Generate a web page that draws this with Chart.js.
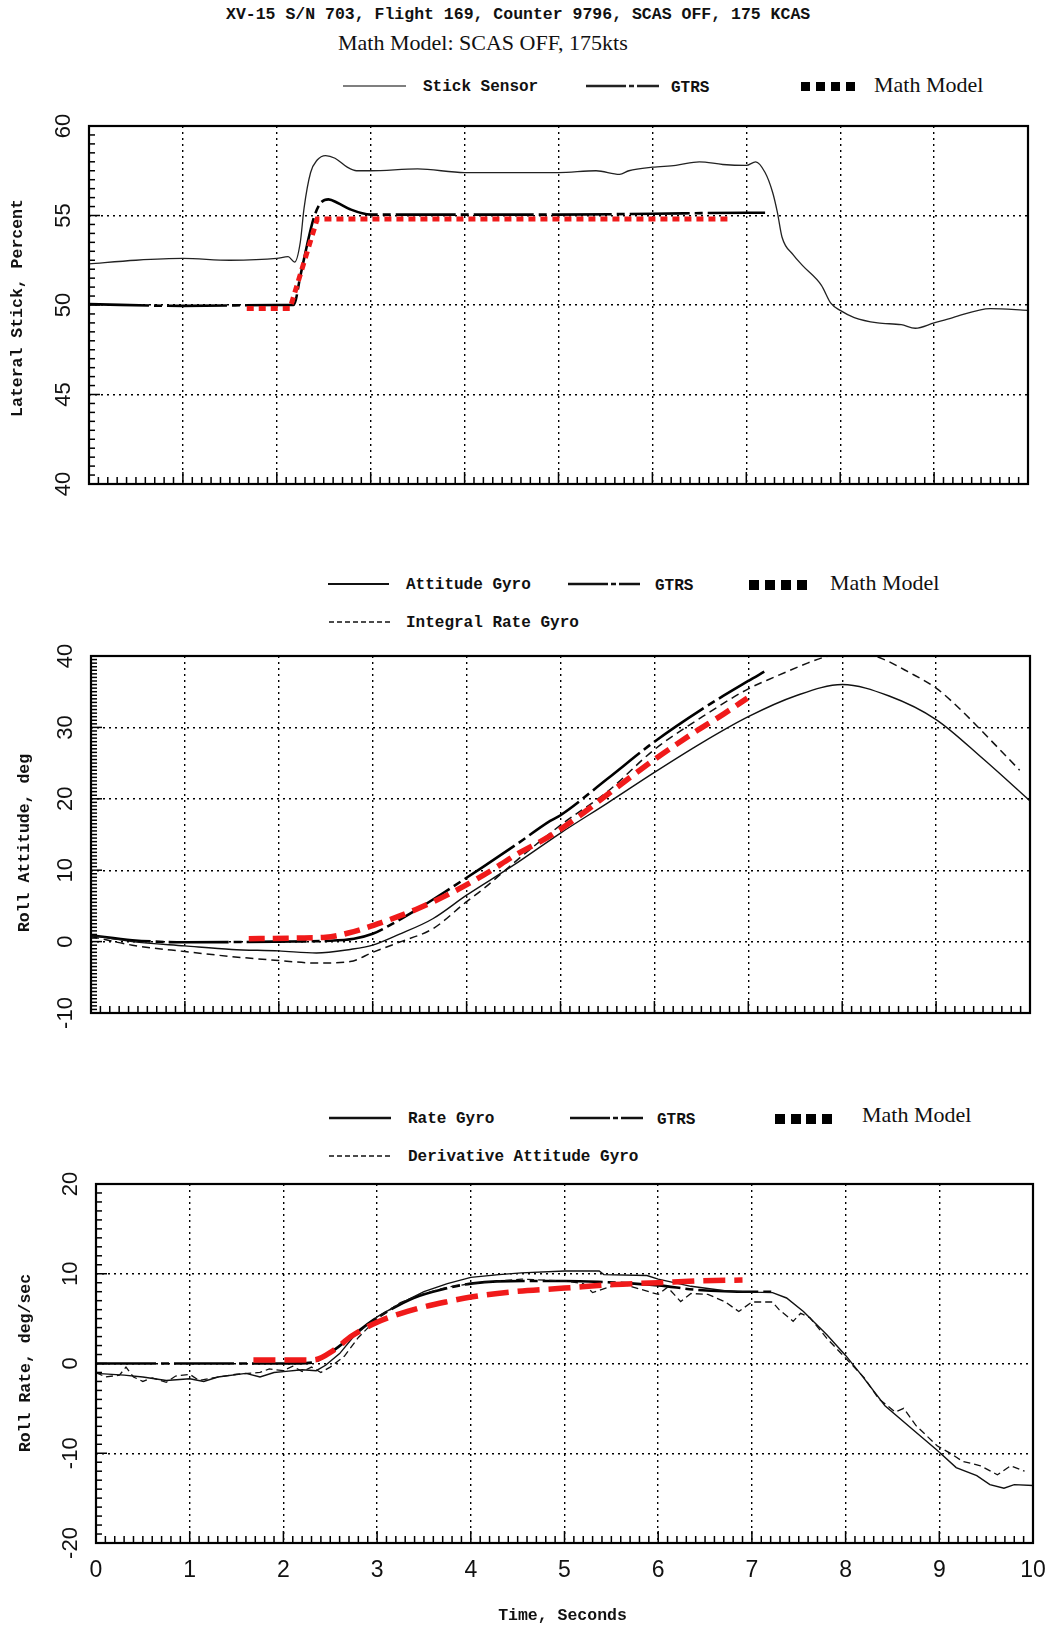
<!DOCTYPE html>
<html>
<head>
<meta charset="utf-8">
<script src="https://cdn.jsdelivr.net/npm/chart.js@4.4.1/dist/chart.umd.min.js"></script>
<style>
  body { margin: 0; background: #fff; }
  #page { position: relative; width: 1054px; height: 1631px; background: #fff; overflow: hidden; }
  #page canvas { position: absolute; left: 0; }
  .t { position: absolute; white-space: nowrap; color: #111; line-height: 1; transform: translateY(-50%); }
  .mono { font-family: "Liberation Mono", "DejaVu Sans Mono", monospace; font-size: 16px; font-weight: bold; }
  .serif { font-family: "Liberation Serif", serif; font-size: 22px; }
  svg.s { position: absolute; overflow: visible; }
</style>
</head>
<body>
<div id="page">
  <canvas id="c1" width="1054" height="420" style="top:100px"></canvas>
  <canvas id="c2" width="1054" height="390" style="top:640px"></canvas>
  <canvas id="c3" width="1054" height="461" style="top:1170px"></canvas>
</div>
<script>
// ---- values (time in s) ----

// top panel: lateral stick, percent
const stickT = [0, 0.5, 1.0, 1.5, 2.0, 2.12, 2.19, 2.25, 2.29, 2.36, 2.43, 2.52, 2.62, 2.75, 2.85, 3.0, 3.5, 4.0, 4.5, 5.0, 5.4, 5.65, 5.75, 6.0, 6.25, 6.5, 6.75, 7.0, 7.1, 7.2, 7.28, 7.33, 7.38, 7.5, 7.6, 7.8, 7.9, 8.0, 8.15, 8.4, 8.65, 8.8, 9.0, 9.2, 9.6, 10.0];
const stickV = [52.3, 52.5, 52.6, 52.5, 52.6, 52.7, 52.4, 53.5, 55.4, 57.4, 58.1, 58.35, 58.2, 57.7, 57.5, 57.5, 57.6, 57.4, 57.4, 57.4, 57.5, 57.3, 57.5, 57.7, 57.8, 58.0, 57.85, 57.8, 58.0, 57.4, 56.3, 55.2, 53.8, 52.8, 52.2, 51.1, 50.1, 49.7, 49.3, 49.0, 48.9, 48.7, 49.0, 49.3, 49.8, 49.7];
const gtrsT1 = [0, 1.0, 2.0, 2.18, 2.25, 2.32, 2.39, 2.46, 2.55, 2.65, 2.78, 3.0, 4.0, 5.0, 6.0, 7.0, 7.2];
const gtrsV1 = [50.05, 49.95, 50.0, 50.0, 51.6, 53.3, 54.8, 55.65, 55.9, 55.7, 55.35, 55.05, 55.05, 55.05, 55.1, 55.15, 55.15];
const mmT1 = [1.68, 2.14, 2.43, 6.84];
const mmV1 = [49.8, 49.8, 54.8, 54.8];

// middle panel: roll attitude, deg
const attT = [0, 0.44, 1, 1.5, 2, 2.4, 2.76, 3, 3.28, 3.64, 4, 4.5, 5, 5.5, 6, 6.5, 7, 7.5, 8, 8.5, 9, 9.5, 10];
const attV = [0.9, 0, -0.6, -1.1, -1.3, -1.6, -1.1, -0.5, 1.0, 3.2, 6.5, 10.7, 15.2, 19.4, 23.7, 27.8, 31.5, 34.4, 36.0, 34.4, 31.1, 25.6, 19.7];
const gtrsT2 = [0, 0.44, 1, 2, 2.5, 2.8, 3.0, 3.17, 3.46, 3.82, 4.18, 4.53, 4.89, 5.0, 5.5, 6.0, 6.5, 7.0, 7.17];
const gtrsV2 = [0.9, 0.2, -0.1, 0, 0.1, 0.4, 1.1, 2.2, 4.4, 7.4, 10.5, 13.6, 16.9, 17.7, 22.8, 28.0, 32.5, 36.5, 37.8];
const intT = [0, 0.44, 1, 1.5, 2, 2.4, 2.76, 3.0, 3.28, 3.64, 4.0, 4.18, 4.5, 5.0, 5.5, 6.0, 6.5, 7.0, 7.27, 7.63, 7.8, 8.0, 8.2, 8.43, 8.7, 9.0, 9.26, 9.56, 9.89];
const intV = [0.7, -0.5, -1.4, -2.1, -2.65, -3.0, -2.8, -1.5, -0.1, 1.8, 5.6, 7.4, 11.0, 16.3, 21.0, 26.9, 31.4, 35.4, 37.0, 39.0, 39.8, 40.4, 40.5, 39.6, 37.8, 35.5, 32.5, 28.5, 24.0];
const mmT2 = [1.68, 2.2, 2.5, 2.74, 3.1, 3.46, 3.82, 4.18, 4.53, 4.89, 5.2, 5.5, 6.0, 6.39, 6.74, 6.99];
const mmV2 = [0.4, 0.5, 0.6, 1.2, 2.7, 4.5, 6.7, 9.3, 12.2, 14.8, 17.6, 20.6, 25.5, 29.0, 31.9, 34.1];

// bottom panel: roll rate, deg/sec
const rateT = [0, 0.3, 0.5, 0.75, 1.0, 1.15, 1.3, 1.6, 1.75, 1.9, 2.0, 2.2, 2.35, 2.45, 2.6, 2.75, 3.0, 3.25, 3.5, 3.75, 4.0, 4.3, 4.54, 5.0, 5.37, 5.42, 5.88, 6.0, 6.35, 6.71, 7.0, 7.22, 7.37, 7.55, 7.8, 8.0, 8.17, 8.42, 8.71, 8.98, 9.18, 9.4, 9.54, 9.69, 9.8, 10.0];
const rateV = [-1.1, -1.3, -1.5, -1.9, -1.7, -2.0, -1.5, -1.1, -1.5, -1.0, -0.9, -0.7, -0.8, -0.2, 1.1, 3.0, 5.2, 6.7, 8.0, 8.9, 9.6, 9.9, 10.1, 10.3, 10.3, 9.9, 9.8, 9.4, 8.6, 8.1, 7.95, 7.9, 7.3, 5.8, 3.2, 0.9, -1.3, -4.7, -7.3, -9.7, -11.6, -12.5, -13.5, -13.9, -13.5, -13.6];
const derivT = [0, 0.1, 0.25, 0.32, 0.4, 0.5, 0.6, 0.75, 0.85, 1.0, 1.1, 1.25, 1.5, 1.75, 1.85, 2.0, 2.1, 2.2, 2.3, 2.4, 2.5, 2.65, 2.8, 3.0, 3.25, 3.5, 3.75, 4.0, 4.3, 4.54, 5.0, 5.2, 5.3, 5.44, 5.6, 6.0, 6.1, 6.24, 6.35, 6.53, 6.71, 6.86, 7.0, 7.22, 7.29, 7.44, 7.52, 7.62, 7.8, 8.0, 8.2, 8.35, 8.53, 8.62, 8.75, 8.98, 9.1, 9.25, 9.44, 9.62, 9.76, 9.91];
const derivV = [-1.0, -1.5, -1.3, -0.4, -1.5, -2.0, -1.6, -2.1, -1.4, -1.2, -1.9, -1.6, -1.2, -1.0, -0.6, -0.8, -0.3, -0.9, -0.4, -1.0, -0.4, 0.8, 2.9, 5.0, 6.8, 7.8, 8.5, 8.9, 9.2, 9.4, 9.2, 8.9, 7.9, 8.4, 8.9, 7.7, 8.5, 6.9, 7.8, 7.7, 6.9, 5.8, 6.85, 6.85, 6.0, 4.7, 5.6, 5.1, 2.8, 0.6, -1.6, -3.9, -5.4, -5.0, -6.9, -9.2, -9.9, -10.9, -11.4, -12.4, -11.4, -12.0];
const gtrsT3 = [0, 1, 2, 2.3, 2.5, 2.86, 3.0, 3.39, 3.75, 4.0, 4.28, 5.0, 5.36, 6.0, 6.42, 7.0, 7.22];
const gtrsV3 = [0, 0, 0, 0.1, 1.2, 4.1, 5.1, 7.3, 8.4, 8.9, 9.15, 9.2, 9.1, 8.7, 8.2, 8.0, 8.0];
const mmT3 = [1.68, 2.32, 2.54, 2.72, 3.0, 3.39, 3.75, 4.0, 4.46, 5.0, 5.53, 6.0, 6.42, 6.9];
const mmV3 = [0.4, 0.4, 1.5, 3.0, 4.6, 6.0, 6.9, 7.4, 8.0, 8.4, 8.8, 9.0, 9.2, 9.3];

const yTicks1 = [40, 45, 50, 55, 60];
const yTicks2 = [-10, 0, 10, 20, 30, 40];
const yTicks3 = [-20, -10, 0, 10, 20];
const xTicks = [0, 1, 2, 3, 4, 5, 6, 7, 8, 9, 10];

const RED = "#f01a1a";
const pts = (t, v) => t.map((x, i) => ({ x: x, y: v[i] }));

function line(t, v, color, width, dash, smooth) {
  return {
    data: pts(t, v),
    borderColor: color,
    borderWidth: width,
    borderDash: dash || [],
    pointRadius: 0,
    fill: false,
    cubicInterpolationMode: smooth ? "monotone" : "default",
    tension: 0,
  };
}

// frame, minor ticks, rotated labels
const framePlugin = {
  id: "frame",
  afterDraw(chart, args, o) {
    const ctx = chart.ctx;
    const a = chart.chartArea;
    const x = chart.scales.x, y = chart.scales.y;
    ctx.save();
    ctx.strokeStyle = "#000";
    ctx.lineWidth = 1.5;
    const n = Math.round((o.yMax - o.yMin) / o.yMinor);
    for (let i = 0; i <= n; i++) {
      const v = o.yMin + i * o.yMinor;
      const py = y.getPixelForValue(v);
      const major = Math.abs(v / o.yMajor - Math.round(v / o.yMajor)) < 1e-6;
      ctx.beginPath(); ctx.moveTo(a.left, py); ctx.lineTo(a.left + (major ? 11 : 6), py); ctx.stroke();
    }
    for (let i = 0; i <= 100; i++) {
      const px = x.getPixelForValue(i / 10);
      const len = i % 10 === 0 ? 12 : 7;
      ctx.beginPath(); ctx.moveTo(px, a.bottom); ctx.lineTo(px, a.bottom - len); ctx.stroke();
    }
    ctx.lineWidth = 2.2;
    ctx.strokeRect(a.left, a.top, a.right - a.left, a.bottom - a.top);

    ctx.fillStyle = "#111";
    ctx.textAlign = "center";
    ctx.textBaseline = "middle";
    ctx.font = '22px "Liberation Sans", Arial, sans-serif';
    o.yLabels.forEach(v => {
      ctx.save();
      ctx.translate(o.labelX, y.getPixelForValue(v));
      ctx.rotate(-Math.PI / 2);
      ctx.fillText(String(v), 0, 0);
      ctx.restore();
    });
    if (o.xLabels) {
      ctx.font = '23px "Liberation Sans", Arial, sans-serif';
      o.xLabels.forEach(v => ctx.fillText(String(v), x.getPixelForValue(v), o.xLabelY));
      ctx.font = 'bold 16.5px "Liberation Mono", monospace';
      ctx.fillText(o.xTitle, (a.left + a.right) / 2 - 2, o.xTitleY);
    }
    ctx.font = 'bold 16.5px "Liberation Mono", monospace';
    ctx.save();
    ctx.translate(o.titleX, o.titleY);
    ctx.rotate(-Math.PI / 2);
    ctx.fillText(o.title, 0, 0);
    ctx.restore();
    ctx.restore();
  }
};

function makePanel(id, datasets, pad, yMin, yMax, yStep, frame) {
  const gridOpts = { color: "#000", lineWidth: 1.4, drawTicks: false };
  return new Chart(document.getElementById(id).getContext("2d"), {
    type: "line",
    data: { datasets: datasets },
    options: {
      responsive: false,
      animation: false,
      layout: { padding: pad },
      plugins: { legend: { display: false }, tooltip: { enabled: false }, frame: frame },
      scales: {
        x: {
          type: "linear", min: 0, max: 10,
          ticks: { stepSize: 1, display: false },
          grid: gridOpts,
          border: { display: false, dash: [2, 4] },
          afterFit: s => { s.height = 0; },
        },
        y: {
          type: "linear", min: yMin, max: yMax,
          ticks: { stepSize: yStep, display: false },
          grid: gridOpts,
          border: { display: false, dash: [2, 4] },
          afterFit: s => { s.width = 0; },
        },
      },
    },
    plugins: [framePlugin],
  });
}

// top: canvas top 100
makePanel("c1", [
  line(mmT1, mmV1, RED, 5, [7, 5], false),
  line(stickT, stickV, "#222", 1.3, [], true),
  line(gtrsT1, gtrsV1, "#000", 2.6, [60, 5, 8, 5], true),
], { left: 89, right: 26, top: 26, bottom: 36 }, 40, 60, 5, {
  yMin: 40, yMax: 60, yMinor: 0.5, yMajor: 5, yLabels: yTicks1,
  labelX: 64, title: "Lateral Stick, Percent", titleX: 18, titleY: 208,
});

// middle: canvas top 640
makePanel("c2", [
  line(mmT2, mmV2, RED, 5.5, [16, 8], true),
  line(attT, attV, "#111", 1.4, [], true),
  line(intT, intV, "#111", 1.5, [8, 5], true),
  line(gtrsT2, gtrsV2, "#000", 2.6, [60, 5, 8, 5], true),
], { left: 91, right: 24, top: 16, bottom: 17 }, -10, 40, 10, {
  yMin: -10, yMax: 40, yMinor: 0.5, yMajor: 10, yLabels: yTicks2,
  labelX: 66, title: "Roll Attitude, deg", titleX: 25, titleY: 203,
});

// bottom: canvas top 1170
makePanel("c3", [
  line(mmT3, mmV3, RED, 5.5, [22, 9], true),
  line(rateT, rateV, "#111", 1.4, [], false),
  line(derivT, derivV, "#111", 1.3, [7, 4], false),
  line(gtrsT3, gtrsV3, "#000", 2.6, [60, 5, 8, 5], true),
], { left: 96, right: 21, top: 14, bottom: 88 }, -20, 20, 10, {
  yMin: -20, yMax: 20, yMinor: 1, yMajor: 10, yLabels: yTicks3,
  labelX: 71, title: "Roll Rate, deg/sec", titleX: 26, titleY: 193,
  xLabels: xTicks, xLabelY: 401, xTitle: "Time, Seconds", xTitleY: 446,
});

// ---- titles and legends (HTML text) ----
const page = document.getElementById("page");
function text(cls, str, x, y, extra) {
  const d = document.createElement("div");
  d.className = "t " + cls;
  d.textContent = str;
  d.style.left = x + "px";
  d.style.top = y + "px";
  if (extra) Object.assign(d.style, extra);
  page.appendChild(d);
}
function sample(x1, x2, y, color, width, dash) {
  const ns = "http://www.w3.org/2000/svg";
  const s = document.createElementNS(ns, "svg");
  s.setAttribute("class", "s");
  s.setAttribute("width", x2 - x1);
  s.setAttribute("height", 10);
  s.style.left = x1 + "px";
  s.style.top = (y - 5) + "px";
  const l = document.createElementNS(ns, "line");
  l.setAttribute("x1", 0); l.setAttribute("x2", x2 - x1);
  l.setAttribute("y1", 5); l.setAttribute("y2", 5);
  l.setAttribute("stroke", color);
  l.setAttribute("stroke-width", width);
  if (dash) l.setAttribute("stroke-dasharray", dash);
  s.appendChild(l);
  page.appendChild(s);
}
function squares(x, y, size, gap) {
  for (let i = 0; i < 4; i++) {
    const d = document.createElement("div");
    Object.assign(d.style, {
      position: "absolute", background: "#000", width: size + "px", height: size + "px",
      left: (x + i * (size + gap)) + "px", top: (y - size / 2) + "px",
    });
    page.appendChild(d);
  }
}

text("mono", "XV-15 S/N 703, Flight 169, Counter 9796, SCAS OFF, 175 KCAS", 226, 15, { fontSize: "16.5px" });
text("serif", "Math Model: SCAS OFF, 175kts", 338, 43);

// legend 1
sample(343, 406, 86, "#555", 1.5);
text("mono", "Stick Sensor", 423, 87);
sample(586, 659, 86, "#222", 2.5, "40 3 5 3 30");
text("mono", "GTRS", 671, 88);
squares(801, 86, 9, 6);
text("serif", "Math Model", 874, 85);

// legend 2
sample(328, 389, 584, "#111", 2);
text("mono", "Attitude Gyro", 406, 585);
sample(568, 640, 584, "#111", 2.5, "40 3 5 3 30");
text("mono", "GTRS", 655, 586);
squares(749, 585, 10, 6);
text("serif", "Math Model", 830, 583);
sample(329, 391, 622, "#111", 1.5, "5 3");
text("mono", "Integral Rate Gyro", 406, 623);

// legend 3
sample(329, 391, 1118, "#111", 2.5);
text("mono", "Rate Gyro", 408, 1119);
sample(570, 643, 1118, "#111", 2.5, "40 3 5 3 30");
text("mono", "GTRS", 657, 1120);
squares(775, 1119, 10, 5.5);
text("serif", "Math Model", 862, 1115);
sample(329, 393, 1156, "#111", 1.5, "5 3");
text("mono", "Derivative Attitude Gyro", 408, 1157);
</script>
</body>
</html>
